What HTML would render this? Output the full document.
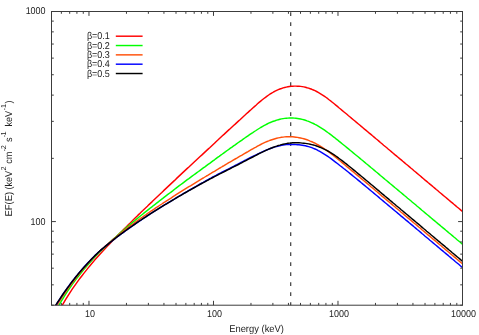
<!DOCTYPE html>
<html><head><meta charset="utf-8"><title>EF(E)</title>
<style>
html,body{margin:0;padding:0;background:#fff;}
body{width:479px;height:335px;overflow:hidden;}
svg{display:block;will-change:transform;}
text{font-family:"Liberation Sans",sans-serif;font-size:9.9px;fill:#222;text-rendering:geometricPrecision;}
</style></head><body>
<svg width="479" height="335" viewBox="0 0 479 335">
<rect x="0" y="0" width="479" height="335" fill="#fff"/>
<defs><clipPath id="c"><rect x="51.50" y="11.50" width="411.00" height="293.70"/></clipPath></defs>

<line x1="290.70" y1="12.30" x2="290.70" y2="305.20" stroke="#3c3c3c" stroke-width="1.2" stroke-dasharray="3.7 6.3" stroke-dashoffset="0"/>
<g clip-path="url(#c)" fill="none" stroke-width="1.45" stroke-linejoin="round">
<path d="M58.0 313.0 L59.6 310.0 L61.2 307.1 L62.8 304.3 L64.4 301.6 L66.0 298.9 L67.6 296.3 L69.2 293.8 L70.8 291.3 L72.4 288.9 L74.0 286.6 L75.6 284.3 L77.2 282.1 L78.8 279.9 L80.4 277.8 L82.0 275.7 L83.6 273.6 L85.2 271.6 L86.8 269.6 L88.4 267.6 L90.0 265.7 L91.6 263.8 L93.1 262.0 L94.7 260.1 L96.3 258.3 L97.9 256.5 L99.5 254.7 L101.1 252.9 L102.7 251.2 L104.3 249.5 L105.9 247.8 L107.5 246.1 L109.1 244.4 L110.7 242.7 L112.3 241.0 L113.9 239.4 L115.5 237.7 L117.1 236.1 L118.7 234.5 L120.3 232.8 L121.9 231.2 L123.5 229.6 L125.1 228.0 L126.7 226.4 L128.3 224.8 L129.9 223.3 L131.5 221.7 L133.1 220.1 L134.6 218.6 L136.2 217.0 L137.8 215.4 L139.4 213.9 L141.0 212.3 L142.6 210.8 L144.2 209.2 L145.8 207.7 L147.4 206.2 L149.0 204.6 L150.6 203.1 L152.2 201.6 L153.8 200.0 L155.4 198.5 L157.0 197.0 L158.6 195.5 L160.2 194.0 L161.8 192.5 L163.4 190.9 L165.0 189.4 L166.6 187.9 L168.2 186.4 L169.8 184.9 L171.4 183.4 L173.0 181.9 L174.6 180.4 L176.1 178.9 L177.7 177.4 L179.3 175.9 L180.9 174.4 L182.5 172.9 L184.1 171.4 L185.7 169.9 L187.3 168.4 L188.9 167.0 L190.5 165.5 L192.1 164.0 L193.7 162.5 L195.3 161.0 L196.9 159.5 L198.5 158.0 L200.1 156.5 L201.7 155.1 L203.3 153.6 L204.9 152.1 L206.5 150.6 L208.1 149.1 L209.7 147.7 L211.3 146.2 L212.9 144.7 L214.5 143.2 L216.0 141.7 L217.6 140.3 L219.2 138.8 L220.8 137.3 L222.4 135.8 L224.0 134.4 L225.6 132.9 L227.2 131.4 L228.8 129.9 L230.4 128.5 L232.0 127.0 L233.6 125.5 L235.2 124.1 L236.8 122.6 L238.4 121.1 L240.0 119.7 L241.6 118.2 L243.2 116.7 L244.8 115.3 L246.4 113.8 L248.0 112.4 L249.6 110.9 L251.2 109.5 L252.8 108.0 L254.4 106.6 L256.0 105.2 L257.5 103.8 L259.1 102.4 L260.7 101.1 L262.3 99.8 L263.9 98.5 L265.5 97.3 L267.1 96.1 L268.7 95.0 L270.3 93.9 L271.9 93.0 L273.5 92.0 L275.1 91.2 L276.7 90.4 L278.3 89.7 L279.9 89.0 L281.5 88.5 L283.1 87.9 L284.7 87.5 L286.3 87.1 L287.9 86.8 L289.5 86.5 L291.1 86.3 L292.7 86.2 L294.3 86.1 L295.9 86.1 L297.5 86.2 L299.0 86.2 L300.6 86.4 L302.2 86.6 L303.8 86.9 L305.4 87.2 L307.0 87.7 L308.6 88.1 L310.2 88.7 L311.8 89.3 L313.4 90.0 L315.0 90.7 L316.6 91.5 L318.2 92.4 L319.8 93.3 L321.4 94.3 L323.0 95.3 L324.6 96.4 L326.2 97.5 L327.8 98.7 L329.4 100.0 L331.0 101.2 L332.6 102.5 L334.2 103.8 L335.8 105.1 L337.4 106.4 L338.9 107.7 L340.5 109.0 L342.1 110.4 L343.7 111.7 L345.3 113.0 L346.9 114.3 L348.5 115.7 L350.1 117.0 L351.7 118.4 L353.3 119.7 L354.9 121.0 L356.5 122.4 L358.1 123.7 L359.7 125.0 L361.3 126.4 L362.9 127.7 L364.5 129.1 L366.1 130.4 L367.7 131.7 L369.3 133.1 L370.9 134.4 L372.5 135.8 L374.1 137.1 L375.7 138.5 L377.3 139.8 L378.9 141.1 L380.4 142.5 L382.0 143.8 L383.6 145.2 L385.2 146.5 L386.8 147.8 L388.4 149.2 L390.0 150.5 L391.6 151.9 L393.2 153.2 L394.8 154.6 L396.4 155.9 L398.0 157.2 L399.6 158.6 L401.2 159.9 L402.8 161.3 L404.4 162.6 L406.0 164.0 L407.6 165.3 L409.2 166.6 L410.8 168.0 L412.4 169.3 L414.0 170.7 L415.6 172.0 L417.2 173.4 L418.8 174.7 L420.4 176.0 L421.9 177.4 L423.5 178.7 L425.1 180.1 L426.7 181.4 L428.3 182.8 L429.9 184.1 L431.5 185.4 L433.1 186.8 L434.7 188.1 L436.3 189.5 L437.9 190.8 L439.5 192.2 L441.1 193.5 L442.7 194.9 L444.3 196.2 L445.9 197.5 L447.5 198.9 L449.1 200.2 L450.7 201.6 L452.3 202.9 L453.9 204.3 L455.5 205.6 L457.1 207.0 L458.7 208.3 L460.3 209.6 L461.8 211.0 L463.4 212.3" stroke="#ff0000"/>
<path d="M54.8 312.9 L56.4 309.9 L58.0 307.0 L59.6 304.2 L61.2 301.4 L62.8 298.8 L64.4 296.2 L66.0 293.7 L67.6 291.2 L69.2 288.8 L70.8 286.5 L72.4 284.2 L74.0 282.0 L75.6 279.9 L77.2 277.8 L78.8 275.7 L80.4 273.7 L82.0 271.7 L83.6 269.8 L85.2 267.9 L86.8 266.1 L88.4 264.2 L90.0 262.5 L91.6 260.7 L93.1 259.0 L94.7 257.3 L96.3 255.6 L97.9 254.0 L99.5 252.3 L101.1 250.8 L102.7 249.2 L104.3 247.6 L105.9 246.1 L107.5 244.6 L109.1 243.1 L110.7 241.6 L112.3 240.1 L113.9 238.6 L115.5 237.2 L117.1 235.8 L118.7 234.3 L120.3 232.9 L121.9 231.5 L123.5 230.2 L125.1 228.8 L126.7 227.4 L128.3 226.1 L129.9 224.7 L131.5 223.4 L133.1 222.0 L134.6 220.7 L136.2 219.4 L137.8 218.1 L139.4 216.8 L141.0 215.5 L142.6 214.2 L144.2 212.9 L145.8 211.6 L147.4 210.4 L149.0 209.1 L150.6 207.8 L152.2 206.6 L153.8 205.3 L155.4 204.1 L157.0 202.8 L158.6 201.6 L160.2 200.3 L161.8 199.1 L163.4 197.9 L165.0 196.6 L166.6 195.4 L168.2 194.2 L169.8 193.0 L171.4 191.8 L173.0 190.6 L174.6 189.3 L176.1 188.1 L177.7 186.9 L179.3 185.7 L180.9 184.5 L182.5 183.3 L184.1 182.1 L185.7 180.9 L187.3 179.7 L188.9 178.6 L190.5 177.4 L192.1 176.2 L193.7 175.0 L195.3 173.8 L196.9 172.6 L198.5 171.5 L200.1 170.3 L201.7 169.1 L203.3 167.9 L204.9 166.8 L206.5 165.6 L208.1 164.4 L209.7 163.3 L211.3 162.1 L212.9 160.9 L214.5 159.8 L216.0 158.6 L217.6 157.4 L219.2 156.3 L220.8 155.1 L222.4 154.0 L224.0 152.8 L225.6 151.7 L227.2 150.5 L228.8 149.4 L230.4 148.2 L232.0 147.1 L233.6 145.9 L235.2 144.8 L236.8 143.6 L238.4 142.5 L240.0 141.4 L241.6 140.3 L243.2 139.1 L244.8 138.0 L246.4 136.9 L248.0 135.8 L249.6 134.7 L251.2 133.6 L252.8 132.6 L254.4 131.5 L256.0 130.5 L257.5 129.5 L259.1 128.5 L260.7 127.5 L262.3 126.6 L263.9 125.7 L265.5 124.8 L267.1 124.0 L268.7 123.2 L270.3 122.5 L271.9 121.8 L273.5 121.2 L275.1 120.7 L276.7 120.1 L278.3 119.7 L279.9 119.3 L281.5 118.9 L283.1 118.6 L284.7 118.4 L286.3 118.2 L287.9 118.1 L289.5 118.0 L291.1 118.0 L292.7 118.0 L294.3 118.1 L295.9 118.3 L297.5 118.5 L299.0 118.7 L300.6 119.0 L302.2 119.4 L303.8 119.8 L305.4 120.3 L307.0 120.9 L308.6 121.4 L310.2 122.1 L311.8 122.8 L313.4 123.5 L315.0 124.4 L316.6 125.2 L318.2 126.1 L319.8 127.1 L321.4 128.1 L323.0 129.1 L324.6 130.2 L326.2 131.3 L327.8 132.5 L329.4 133.6 L331.0 134.8 L332.6 136.1 L334.2 137.3 L335.8 138.6 L337.4 139.8 L338.9 141.1 L340.5 142.4 L342.1 143.7 L343.7 145.0 L345.3 146.3 L346.9 147.6 L348.5 148.9 L350.1 150.2 L351.7 151.5 L353.3 152.9 L354.9 154.2 L356.5 155.5 L358.1 156.8 L359.7 158.1 L361.3 159.5 L362.9 160.8 L364.5 162.1 L366.1 163.5 L367.7 164.8 L369.3 166.1 L370.9 167.5 L372.5 168.8 L374.1 170.1 L375.7 171.5 L377.3 172.8 L378.9 174.1 L380.4 175.5 L382.0 176.8 L383.6 178.1 L385.2 179.5 L386.8 180.8 L388.4 182.1 L390.0 183.5 L391.6 184.8 L393.2 186.1 L394.8 187.5 L396.4 188.8 L398.0 190.1 L399.6 191.5 L401.2 192.8 L402.8 194.1 L404.4 195.5 L406.0 196.8 L407.6 198.2 L409.2 199.5 L410.8 200.8 L412.4 202.2 L414.0 203.5 L415.6 204.8 L417.2 206.2 L418.8 207.5 L420.4 208.9 L421.9 210.2 L423.5 211.5 L425.1 212.9 L426.7 214.2 L428.3 215.5 L429.9 216.9 L431.5 218.2 L433.1 219.6 L434.7 220.9 L436.3 222.2 L437.9 223.6 L439.5 224.9 L441.1 226.3 L442.7 227.6 L444.3 228.9 L445.9 230.3 L447.5 231.6 L449.1 233.0 L450.7 234.3 L452.3 235.6 L453.9 237.0 L455.5 238.3 L457.1 239.7 L458.7 241.0 L460.3 242.3 L461.8 243.7 L463.4 245.0" stroke="#00ff00"/>
<path d="M53.2 311.3 L54.8 308.6 L56.4 306.1 L58.0 303.5 L59.6 301.0 L61.2 298.6 L62.8 296.2 L64.4 293.8 L66.0 291.5 L67.6 289.2 L69.2 286.9 L70.8 284.7 L72.4 282.6 L74.0 280.5 L75.6 278.4 L77.2 276.3 L78.8 274.3 L80.4 272.3 L82.0 270.4 L83.6 268.5 L85.2 266.7 L86.8 264.8 L88.4 263.0 L90.0 261.3 L91.6 259.6 L93.1 257.9 L94.7 256.2 L96.3 254.6 L97.9 253.0 L99.5 251.4 L101.1 249.9 L102.7 248.5 L104.3 247.0 L105.9 245.6 L107.5 244.2 L109.1 242.9 L110.7 241.5 L112.3 240.1 L113.9 238.8 L115.5 237.5 L117.1 236.2 L118.7 234.9 L120.3 233.6 L121.9 232.3 L123.5 231.1 L125.1 229.8 L126.7 228.6 L128.3 227.4 L129.9 226.2 L131.5 225.0 L133.1 223.9 L134.6 222.7 L136.2 221.5 L137.8 220.4 L139.4 219.3 L141.0 218.1 L142.6 217.0 L144.2 215.9 L145.8 214.8 L147.4 213.6 L149.0 212.5 L150.6 211.4 L152.2 210.4 L153.8 209.3 L155.4 208.2 L157.0 207.1 L158.6 206.1 L160.2 205.0 L161.8 204.0 L163.4 202.9 L165.0 201.9 L166.6 200.8 L168.2 199.8 L169.8 198.8 L171.4 197.8 L173.0 196.7 L174.6 195.7 L176.1 194.7 L177.7 193.7 L179.3 192.7 L180.9 191.7 L182.5 190.7 L184.1 189.7 L185.7 188.7 L187.3 187.7 L188.9 186.7 L190.5 185.8 L192.1 184.8 L193.7 183.8 L195.3 182.8 L196.9 181.8 L198.5 180.9 L200.1 179.9 L201.7 178.9 L203.3 178.0 L204.9 177.0 L206.5 176.0 L208.1 175.1 L209.7 174.1 L211.3 173.2 L212.9 172.2 L214.5 171.3 L216.0 170.3 L217.6 169.4 L219.2 168.4 L220.8 167.5 L222.4 166.5 L224.0 165.6 L225.6 164.6 L227.2 163.7 L228.8 162.7 L230.4 161.8 L232.0 160.9 L233.6 159.9 L235.2 159.0 L236.8 158.1 L238.4 157.1 L240.0 156.2 L241.6 155.3 L243.2 154.3 L244.8 153.4 L246.4 152.5 L248.0 151.6 L249.6 150.6 L251.2 149.7 L252.8 148.8 L254.4 147.9 L256.0 147.1 L257.5 146.2 L259.1 145.3 L260.7 144.5 L262.3 143.7 L263.9 142.9 L265.5 142.2 L267.1 141.5 L268.7 140.9 L270.3 140.2 L271.9 139.7 L273.5 139.2 L275.1 138.7 L276.7 138.3 L278.3 137.9 L279.9 137.6 L281.5 137.3 L283.1 137.1 L284.7 136.9 L286.3 136.8 L287.9 136.7 L289.5 136.7 L291.1 136.8 L292.7 136.8 L294.3 137.0 L295.9 137.2 L297.5 137.4 L299.0 137.7 L300.6 138.0 L302.2 138.4 L303.8 138.8 L305.4 139.3 L307.0 139.8 L308.6 140.4 L310.2 141.1 L311.8 141.7 L313.4 142.5 L315.0 143.2 L316.6 144.1 L318.2 145.0 L319.8 145.9 L321.4 146.9 L323.0 147.9 L324.6 149.0 L326.2 150.1 L327.8 151.2 L329.4 152.4 L331.0 153.6 L332.6 154.8 L334.2 156.1 L335.8 157.4 L337.4 158.7 L338.9 160.0 L340.5 161.3 L342.1 162.6 L343.7 163.9 L345.3 165.2 L346.9 166.6 L348.5 167.9 L350.1 169.2 L351.7 170.6 L353.3 171.9 L354.9 173.3 L356.5 174.6 L358.1 175.9 L359.7 177.3 L361.3 178.6 L362.9 180.0 L364.5 181.3 L366.1 182.6 L367.7 184.0 L369.3 185.3 L370.9 186.7 L372.5 188.0 L374.1 189.3 L375.7 190.7 L377.3 192.0 L378.9 193.4 L380.4 194.7 L382.0 196.1 L383.6 197.4 L385.2 198.8 L386.8 200.1 L388.4 201.4 L390.0 202.8 L391.6 204.1 L393.2 205.5 L394.8 206.8 L396.4 208.2 L398.0 209.5 L399.6 210.8 L401.2 212.2 L402.8 213.5 L404.4 214.9 L406.0 216.2 L407.6 217.6 L409.2 218.9 L410.8 220.3 L412.4 221.6 L414.0 223.0 L415.6 224.3 L417.2 225.6 L418.8 227.0 L420.4 228.3 L421.9 229.7 L423.5 231.0 L425.1 232.4 L426.7 233.7 L428.3 235.1 L429.9 236.4 L431.5 237.7 L433.1 239.1 L434.7 240.4 L436.3 241.8 L437.9 243.1 L439.5 244.5 L441.1 245.8 L442.7 247.2 L444.3 248.5 L445.9 249.9 L447.5 251.2 L449.1 252.5 L450.7 253.9 L452.3 255.2 L453.9 256.6 L455.5 257.9 L457.1 259.3 L458.7 260.6 L460.3 262.0 L461.8 263.3 L463.4 264.7" stroke="#ff500a"/>
<path d="M51.7 312.3 L53.2 309.6 L54.8 306.9 L56.4 304.4 L58.0 301.8 L59.6 299.3 L61.2 296.9 L62.8 294.5 L64.4 292.1 L66.0 289.8 L67.6 287.6 L69.2 285.4 L70.8 283.2 L72.4 281.1 L74.0 279.1 L75.6 277.0 L77.2 275.1 L78.8 273.1 L80.4 271.2 L82.0 269.4 L83.6 267.6 L85.2 265.8 L86.8 264.0 L88.4 262.3 L90.0 260.7 L91.6 259.0 L93.1 257.4 L94.7 255.8 L96.3 254.3 L97.9 252.8 L99.5 251.3 L101.1 249.9 L102.7 248.5 L104.3 247.2 L105.9 245.9 L107.5 244.6 L109.1 243.3 L110.7 242.0 L112.3 240.8 L113.9 239.5 L115.5 238.3 L117.1 237.0 L118.7 235.8 L120.3 234.6 L121.9 233.5 L123.5 232.3 L125.1 231.1 L126.7 230.0 L128.3 228.9 L129.9 227.7 L131.5 226.6 L133.1 225.5 L134.6 224.4 L136.2 223.3 L137.8 222.2 L139.4 221.1 L141.0 220.1 L142.6 219.0 L144.2 217.9 L145.8 216.9 L147.4 215.8 L149.0 214.8 L150.6 213.7 L152.2 212.7 L153.8 211.7 L155.4 210.7 L157.0 209.6 L158.6 208.6 L160.2 207.6 L161.8 206.6 L163.4 205.6 L165.0 204.7 L166.6 203.7 L168.2 202.7 L169.8 201.8 L171.4 200.8 L173.0 199.8 L174.6 198.9 L176.1 197.9 L177.7 197.0 L179.3 196.0 L180.9 195.1 L182.5 194.1 L184.1 193.2 L185.7 192.3 L187.3 191.4 L188.9 190.4 L190.5 189.5 L192.1 188.6 L193.7 187.7 L195.3 186.8 L196.9 185.9 L198.5 184.9 L200.1 184.0 L201.7 183.1 L203.3 182.3 L204.9 181.4 L206.5 180.5 L208.1 179.6 L209.7 178.7 L211.3 177.9 L212.9 177.0 L214.5 176.2 L216.0 175.4 L217.6 174.5 L219.2 173.7 L220.8 172.9 L222.4 172.0 L224.0 171.2 L225.6 170.4 L227.2 169.6 L228.8 168.8 L230.4 168.0 L232.0 167.1 L233.6 166.3 L235.2 165.5 L236.8 164.7 L238.4 163.8 L240.0 163.0 L241.6 162.1 L243.2 161.3 L244.8 160.5 L246.4 159.7 L248.0 158.8 L249.6 158.0 L251.2 157.2 L252.8 156.4 L254.4 155.6 L256.0 154.8 L257.5 154.1 L259.1 153.3 L260.7 152.6 L262.3 151.8 L263.9 151.1 L265.5 150.4 L267.1 149.8 L268.7 149.1 L270.3 148.5 L271.9 148.0 L273.5 147.4 L275.1 146.9 L276.7 146.5 L278.3 146.0 L279.9 145.7 L281.5 145.3 L283.1 145.1 L284.7 144.8 L286.3 144.6 L287.9 144.5 L289.5 144.4 L291.1 144.4 L292.7 144.4 L294.3 144.5 L295.9 144.6 L297.5 144.7 L299.0 144.8 L300.6 145.0 L302.2 145.2 L303.8 145.5 L305.4 145.8 L307.0 146.2 L308.6 146.6 L310.2 147.1 L311.8 147.6 L313.4 148.3 L315.0 149.0 L316.6 149.7 L318.2 150.6 L319.8 151.4 L321.4 152.3 L323.0 153.3 L324.6 154.3 L326.2 155.3 L327.8 156.4 L329.4 157.5 L331.0 158.7 L332.6 159.9 L334.2 161.1 L335.8 162.3 L337.4 163.5 L338.9 164.7 L340.5 166.0 L342.1 167.2 L343.7 168.5 L345.3 169.7 L346.9 171.0 L348.5 172.3 L350.1 173.6 L351.7 174.9 L353.3 176.2 L354.9 177.5 L356.5 178.8 L358.1 180.1 L359.7 181.4 L361.3 182.8 L362.9 184.1 L364.5 185.4 L366.1 186.7 L367.7 188.0 L369.3 189.4 L370.9 190.7 L372.5 192.0 L374.1 193.4 L375.7 194.7 L377.3 196.0 L378.9 197.4 L380.4 198.7 L382.0 200.0 L383.6 201.4 L385.2 202.7 L386.8 204.0 L388.4 205.4 L390.0 206.7 L391.6 208.0 L393.2 209.4 L394.8 210.7 L396.4 212.0 L398.0 213.4 L399.6 214.7 L401.2 216.1 L402.8 217.4 L404.4 218.7 L406.0 220.1 L407.6 221.4 L409.2 222.8 L410.8 224.1 L412.4 225.4 L414.0 226.8 L415.6 228.1 L417.2 229.5 L418.8 230.8 L420.4 232.1 L421.9 233.5 L423.5 234.8 L425.1 236.2 L426.7 237.5 L428.3 238.8 L429.9 240.2 L431.5 241.5 L433.1 242.9 L434.7 244.2 L436.3 245.5 L437.9 246.9 L439.5 248.2 L441.1 249.6 L442.7 250.9 L444.3 252.3 L445.9 253.6 L447.5 254.9 L449.1 256.3 L450.7 257.6 L452.3 259.0 L453.9 260.3 L455.5 261.7 L457.1 263.0 L458.7 264.3 L460.3 265.7 L461.8 267.0 L463.4 268.4" stroke="#0000ff"/>
<path d="M51.7 311.9 L53.2 309.2 L54.8 306.7 L56.4 304.2 L58.0 301.7 L59.6 299.3 L61.2 296.9 L62.8 294.5 L64.4 292.2 L66.0 290.0 L67.6 287.7 L69.2 285.6 L70.8 283.4 L72.4 281.3 L74.0 279.3 L75.6 277.3 L77.2 275.3 L78.8 273.3 L80.4 271.4 L82.0 269.6 L83.6 267.8 L85.2 266.0 L86.8 264.2 L88.4 262.5 L90.0 260.8 L91.6 259.1 L93.1 257.5 L94.7 255.9 L96.3 254.4 L97.9 252.8 L99.5 251.3 L101.1 249.9 L102.7 248.5 L104.3 247.2 L105.9 245.9 L107.5 244.6 L109.1 243.3 L110.7 242.0 L112.3 240.7 L113.9 239.4 L115.5 238.2 L117.1 236.9 L118.7 235.7 L120.3 234.5 L121.9 233.3 L123.5 232.2 L125.1 231.0 L126.7 229.9 L128.3 228.7 L129.9 227.6 L131.5 226.5 L133.1 225.4 L134.6 224.3 L136.2 223.2 L137.8 222.1 L139.4 221.0 L141.0 220.0 L142.6 218.9 L144.2 217.8 L145.8 216.8 L147.4 215.7 L149.0 214.7 L150.6 213.7 L152.2 212.7 L153.8 211.6 L155.4 210.6 L157.0 209.6 L158.6 208.6 L160.2 207.6 L161.8 206.7 L163.4 205.7 L165.0 204.7 L166.6 203.8 L168.2 202.8 L169.8 201.8 L171.4 200.9 L173.0 200.0 L174.6 199.0 L176.1 198.1 L177.7 197.1 L179.3 196.2 L180.9 195.3 L182.5 194.4 L184.1 193.4 L185.7 192.5 L187.3 191.6 L188.9 190.7 L190.5 189.8 L192.1 188.9 L193.7 188.0 L195.3 187.1 L196.9 186.2 L198.5 185.3 L200.1 184.4 L201.7 183.5 L203.3 182.7 L204.9 181.8 L206.5 180.9 L208.1 180.1 L209.7 179.2 L211.3 178.4 L212.9 177.5 L214.5 176.7 L216.0 175.9 L217.6 175.1 L219.2 174.2 L220.8 173.4 L222.4 172.6 L224.0 171.8 L225.6 171.0 L227.2 170.2 L228.8 169.4 L230.4 168.6 L232.0 167.7 L233.6 166.9 L235.2 166.1 L236.8 165.3 L238.4 164.5 L240.0 163.6 L241.6 162.8 L243.2 161.9 L244.8 161.1 L246.4 160.3 L248.0 159.4 L249.6 158.6 L251.2 157.8 L252.8 157.0 L254.4 156.1 L256.0 155.3 L257.5 154.5 L259.1 153.7 L260.7 152.9 L262.3 152.2 L263.9 151.4 L265.5 150.6 L267.1 149.9 L268.7 149.2 L270.3 148.5 L271.9 147.8 L273.5 147.2 L275.1 146.6 L276.7 146.1 L278.3 145.5 L279.9 145.1 L281.5 144.6 L283.1 144.2 L284.7 143.9 L286.3 143.6 L287.9 143.3 L289.5 143.1 L291.1 143.0 L292.7 142.8 L294.3 142.8 L295.9 142.7 L297.5 142.8 L299.0 142.8 L300.6 142.9 L302.2 143.1 L303.8 143.2 L305.4 143.4 L307.0 143.6 L308.6 143.9 L310.2 144.2 L311.8 144.6 L313.4 145.0 L315.0 145.4 L316.6 146.0 L318.2 146.6 L319.8 147.2 L321.4 147.9 L323.0 148.6 L324.6 149.4 L326.2 150.2 L327.8 151.0 L329.4 151.9 L331.0 152.9 L332.6 153.9 L334.2 154.9 L335.8 156.0 L337.4 157.1 L338.9 158.3 L340.5 159.5 L342.1 160.7 L343.7 161.9 L345.3 163.2 L346.9 164.4 L348.5 165.7 L350.1 167.0 L351.7 168.3 L353.3 169.6 L354.9 170.9 L356.5 172.2 L358.1 173.6 L359.7 174.9 L361.3 176.2 L362.9 177.5 L364.5 178.9 L366.1 180.2 L367.7 181.5 L369.3 182.9 L370.9 184.2 L372.5 185.5 L374.1 186.9 L375.7 188.2 L377.3 189.6 L378.9 190.9 L380.4 192.2 L382.0 193.6 L383.6 194.9 L385.2 196.3 L386.8 197.6 L388.4 198.9 L390.0 200.3 L391.6 201.6 L393.2 203.0 L394.8 204.3 L396.4 205.7 L398.0 207.0 L399.6 208.3 L401.2 209.7 L402.8 211.0 L404.4 212.4 L406.0 213.7 L407.6 215.0 L409.2 216.4 L410.8 217.7 L412.4 219.1 L414.0 220.4 L415.6 221.8 L417.2 223.1 L418.8 224.4 L420.4 225.8 L421.9 227.1 L423.5 228.5 L425.1 229.8 L426.7 231.2 L428.3 232.5 L429.9 233.8 L431.5 235.2 L433.1 236.5 L434.7 237.9 L436.3 239.2 L437.9 240.6 L439.5 241.9 L441.1 243.3 L442.7 244.6 L444.3 245.9 L445.9 247.3 L447.5 248.6 L449.1 250.0 L450.7 251.3 L452.3 252.7 L453.9 254.0 L455.5 255.4 L457.1 256.7 L458.7 258.0 L460.3 259.4 L461.8 260.7 L463.4 262.1" stroke="#000000"/>
</g>
<path d="M51.50 305.20V302.90M51.50 11.50V13.80M61.36 305.20V302.90M61.36 11.50V13.80M69.69 305.20V302.90M69.69 11.50V13.80M76.91 305.20V302.90M76.91 11.50V13.80M83.28 305.20V302.90M83.28 11.50V13.80M88.98 305.20V300.80M88.98 11.50V15.90M126.46 305.20V302.90M126.46 11.50V13.80M148.38 305.20V302.90M148.38 11.50V13.80M163.94 305.20V302.90M163.94 11.50V13.80M176.01 305.20V302.90M176.01 11.50V13.80M185.87 305.20V302.90M185.87 11.50V13.80M194.20 305.20V302.90M194.20 11.50V13.80M201.42 305.20V302.90M201.42 11.50V13.80M207.79 305.20V302.90M207.79 11.50V13.80M213.49 305.20V300.80M213.49 11.50V15.90M250.97 305.20V302.90M250.97 11.50V13.80M272.89 305.20V302.90M272.89 11.50V13.80M288.45 305.20V302.90M288.45 11.50V13.80M300.51 305.20V302.90M300.51 11.50V13.80M310.37 305.20V302.90M310.37 11.50V13.80M318.71 305.20V302.90M318.71 11.50V13.80M325.93 305.20V302.90M325.93 11.50V13.80M332.30 305.20V302.90M332.30 11.50V13.80M337.99 305.20V300.80M337.99 11.50V15.90M375.47 305.20V302.90M375.47 11.50V13.80M397.40 305.20V302.90M397.40 11.50V13.80M412.95 305.20V302.90M412.95 11.50V13.80M425.02 305.20V302.90M425.02 11.50V13.80M434.88 305.20V302.90M434.88 11.50V13.80M443.21 305.20V302.90M443.21 11.50V13.80M450.43 305.20V302.90M450.43 11.50V13.80M456.80 305.20V302.90M456.80 11.50V13.80M462.50 305.20V300.80M462.50 11.50V15.90M51.50 305.20H53.80M462.50 305.20H460.20M51.50 284.84H53.80M462.50 284.84H460.20M51.50 268.20H53.80M462.50 268.20H460.20M51.50 254.14H53.80M462.50 254.14H460.20M51.50 241.96H53.80M462.50 241.96H460.20M51.50 231.21H53.80M462.50 231.21H460.20M51.50 221.59H55.90M462.50 221.59H458.10M51.50 158.35H53.80M462.50 158.35H460.20M51.50 121.35H53.80M462.50 121.35H460.20M51.50 95.11H53.80M462.50 95.11H460.20M51.50 74.74H53.80M462.50 74.74H460.20M51.50 58.11H53.80M462.50 58.11H460.20M51.50 44.04H53.80M462.50 44.04H460.20M51.50 31.86H53.80M462.50 31.86H460.20M51.50 21.11H53.80M462.50 21.11H460.20M51.50 11.50H55.90M462.50 11.50H458.10" stroke="#3c3c3c" stroke-width="1" fill="none"/>
<rect x="51.50" y="11.50" width="411.00" height="293.70" fill="none" stroke="#3c3c3c" stroke-width="1"/>
<text transform="translate(89.98,317.20) scale(0.9091,1)" text-anchor="middle">10</text>
<text transform="translate(214.49,317.20) scale(0.9091,1)" text-anchor="middle">100</text>
<text transform="translate(338.99,317.20) scale(0.9091,1)" text-anchor="middle">1000</text>
<text transform="translate(463.50,317.20) scale(0.9091,1)" text-anchor="middle">10000</text>
<text transform="translate(45.60,225.00) scale(0.9091,1)" text-anchor="end">100</text>
<text transform="translate(45.60,14.20) scale(0.9091,1)" text-anchor="end">1000</text>
<text transform="translate(256.55,331.50) scale(0.9500,1)" text-anchor="middle">Energy (keV)</text>
<text transform="translate(11.9,216.50) rotate(-90) scale(0.960,1)">EF(E)</text>
<text transform="translate(11.9,189.60) rotate(-90) scale(0.920,1)">(keV</text>
<text transform="translate(11.9,163.70) rotate(-90) scale(0.920,1)">cm</text>
<text transform="translate(11.9,141.90) rotate(-90) scale(0.920,1)">s</text>
<text transform="translate(11.9,126.60) rotate(-90) scale(0.930,1)">keV</text>
<text transform="translate(11.9,103.50) rotate(-90) scale(0.920,1)">)</text>
<g transform="translate(6.3,0) rotate(-90)">
<text x="-170.60" y="0" style="font-size:7.2px">2</text>
<text x="-149.30" y="0" style="font-size:7.2px">2</text>
<text x="-135.60" y="0" style="font-size:7.2px">1</text>
<text x="-108.10" y="0" style="font-size:7.2px">1</text>
</g>
<rect x="4.3" y="149.50" width="0.8" height="1.25" fill="#222"/>
<rect x="4.3" y="135.40" width="0.8" height="1.25" fill="#222"/>
<rect x="4.3" y="108.50" width="0.8" height="1.25" fill="#222"/>
<text transform="translate(109.80,39.45) scale(0.9091,1)" text-anchor="end">β=0.1</text>
<line x1="115.8" y1="36.20" x2="142.6" y2="36.20" stroke="#ff0000" stroke-width="1.45"/>
<text transform="translate(109.80,48.78) scale(0.9091,1)" text-anchor="end">β=0.2</text>
<line x1="115.8" y1="45.53" x2="142.6" y2="45.53" stroke="#00ff00" stroke-width="1.45"/>
<text transform="translate(109.80,58.11) scale(0.9091,1)" text-anchor="end">β=0.3</text>
<line x1="115.8" y1="54.86" x2="142.6" y2="54.86" stroke="#ff500a" stroke-width="1.45"/>
<text transform="translate(109.80,67.44) scale(0.9091,1)" text-anchor="end">β=0.4</text>
<line x1="115.8" y1="64.19" x2="142.6" y2="64.19" stroke="#0000ff" stroke-width="1.45"/>
<text transform="translate(109.80,76.77) scale(0.9091,1)" text-anchor="end">β=0.5</text>
<line x1="115.8" y1="73.52" x2="142.6" y2="73.52" stroke="#000000" stroke-width="1.45"/>
</svg></body></html>
